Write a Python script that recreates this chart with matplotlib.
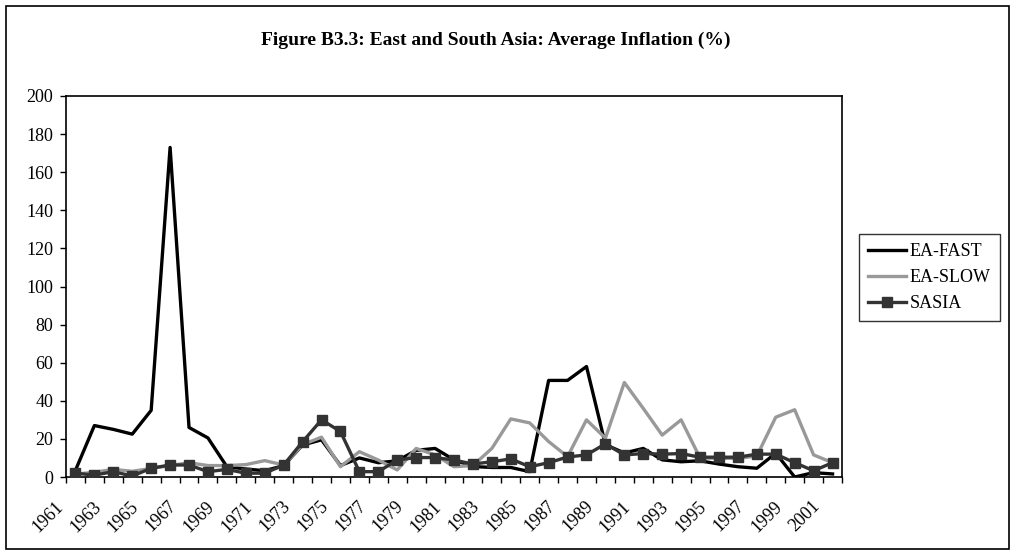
import matplotlib
matplotlib.use('Agg')
import matplotlib.pyplot as plt
import matplotlib.transforms as mtransforms
from matplotlib.patches import Rectangle
import numpy as np

years = list(range(1961, 2002))
ea_fast = [3.5, 27, 25, 22.5, 35, 173, 26, 20.5, 5.4, 4.2,
           3.3, 6, 16.8, 19.5, 6, 10, 7.5, 8.5, 14, 15,
           9, 5.5, 5, 5, 2.8, 50.7, 50.7, 58, 17, 12.6,
           15, 9, 8, 8.5, 6.8, 5.4, 4.6, 12.5, 0, 2.3, 1.6]
ea_slow = [1.5, 2.5, 4, 3, 4.5, 6, 7.5, 6, 6, 6.5,
           8.6, 6.3, 17, 20.9, 5.4, 13.3, 8.9, 3.7, 15, 11.6,
           5.4, 6, 15, 30.5, 28.4, 18.6, 10.7, 30, 20.4, 49.6,
           36, 22, 30, 10, 9.8, 9.8, 11, 31.4, 35.3, 11.6, 7.5]
sasia = [2, 1, 2.8, 0.5, 4.6, 6.3, 6.3, 2.8, 4, 2,
         2, 6.3, 18.5, 30, 23.9, 2.8, 2.8, 8.9, 10.2, 10.2,
         8.9, 6.8, 8, 9.5, 5.4, 7.5, 10.5, 11.6, 17.4, 11.6,
         12.3, 12, 12.3, 10.4, 10.4, 10.4, 12, 12, 7.5, 3.3, 7.5]
series_names = ['EA-FAST', 'EA-SLOW', 'SASIA']
y_ticks = list(range(0, 201, 20))
x_labels = [str(y) for y in years[::2]]
title = 'Figure B3.3: East and South Asia: Average Inflation (%)'

plt.rcParams['font.family'] = ['Liberation Serif', 'DejaVu Serif']

W, H = 1011, 552
fig = plt.figure(figsize=(W / 100, H / 100), dpi=100)
ax = fig.add_axes([66 / W, 1 - 477 / H, 776 / W, 381 / H])

x = np.arange(len(years))
ax.plot(x, ea_fast, color='black', lw=2.4, label=series_names[0], zorder=3)
ax.plot(x, ea_slow, color='#999999', lw=2.4, label=series_names[1], zorder=3)
ax.plot(x, sasia, color='#333333', lw=2.4, marker='s', markersize=7,
        markeredgecolor='#333333', markerfacecolor='#333333',
        label=series_names[2], zorder=4)

ax.set_xlim(-0.5, len(years) - 0.5)
ax.set_ylim(0, 200)
ax.set_yticks(y_ticks)
ax.set_yticklabels([str(v) for v in y_ticks])
ax.tick_params(axis='y', direction='out', length=4.3, width=1, pad=5,
               labelsize=13, colors='black')

ax.set_xticks(np.arange(-0.5, len(years), 1))
ax.set_xticklabels([])
ax.tick_params(axis='x', which='major', direction='out', length=4.3, width=1)
ax.set_xticks(x[::2], minor=True)
ax.set_xticklabels(x_labels, minor=True, rotation=45, ha='right',
                   rotation_mode='default', fontsize=13)
ax.tick_params(axis='x', which='minor', length=0, pad=15)
offset = mtransforms.ScaledTranslation(-0.09, 0, fig.dpi_scale_trans)
for lab in ax.get_xticklabels(minor=True):
    lab.set_transform(lab.get_transform() + offset)

for s in ax.spines.values():
    s.set_color('black')
    s.set_linewidth(1.2)

fig.text(0.49, 1 - 40 / H, title, ha='center', va='center',
         fontsize=14, fontweight='bold')

leg = fig.legend(loc='upper left', bbox_to_anchor=(859 / W, 1 - 234 / H),
                 frameon=True, fancybox=False, edgecolor='black',
                 fontsize=13, handlelength=2.1, handletextpad=0.2,
                 labelspacing=0.5, borderpad=0.5, borderaxespad=0)
leg.get_frame().set_linewidth(1.0)

fig.patches.append(Rectangle((6 / W, 3 / H), 1003 / W, 543 / H,
                             transform=fig.transFigure, fill=False,
                             edgecolor='black', linewidth=1.2))

fig.savefig('out.png', dpi=100)
